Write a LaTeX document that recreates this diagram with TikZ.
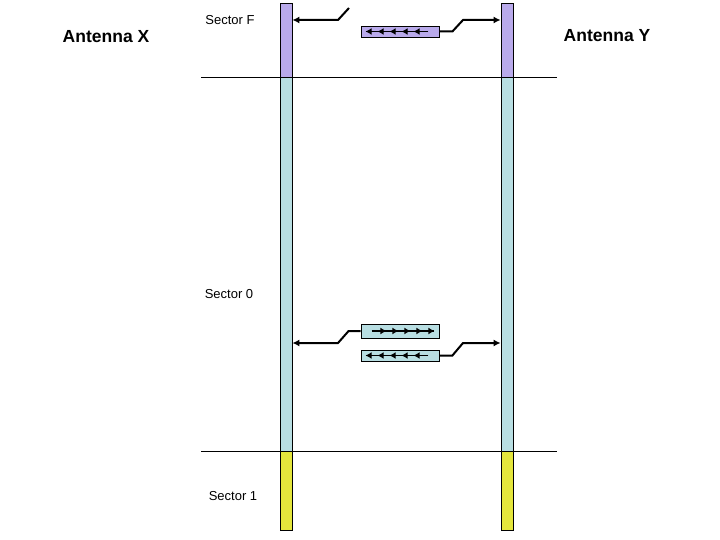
\documentclass[tikz,border=0pt]{standalone}
\usepackage{fontspec}
\setmainfont{Liberation Sans}
\usetikzlibrary{arrows.meta}
\definecolor{secF}{RGB}{185,170,235}
\definecolor{secZ}{RGB}{184,222,226}
\definecolor{secO}{RGB}{228,230,60}
\tikzset{
  seg/.style={draw=black, line width=0.8pt, minimum width=12pt, inner sep=0pt, anchor=north},
  msgbox/.style={draw=black, line width=0.8pt, minimum width=78pt, minimum height=11pt, inner sep=0pt},
  conn/.style={line width=2pt, -{Latex[length=7pt,width=7pt]}},
  tipL/.style={line width=1.4pt, -{Latex[length=6pt,width=7pt]}},
  flow/.style={line width=1.4pt},
  divider/.style={line width=0.8pt},
  lbl/.style={font=\fontsize{13}{15}\selectfont, inner sep=0pt},
  ant/.style={font=\fontsize{17.5}{20}\selectfont\bfseries, inner sep=0pt}
}
\begin{document}
\begin{tikzpicture}[x=1pt,y=-1pt]
\useasboundingbox (0,0) rectangle (720,540);
% bars
\node[seg, fill=secF, minimum height=74pt]  (xF) at (286,3) {};
\node[seg, fill=secZ, minimum height=374pt] (x0) at (286,77) {};
\node[seg, fill=secO, minimum height=79pt]  (x1) at (286,451) {};
\node[seg, fill=secF, minimum height=74pt]  (yF) at (507,3) {};
\node[seg, fill=secZ, minimum height=374pt] (y0) at (507,77) {};
\node[seg, fill=secO, minimum height=79pt]  (y1) at (507,451) {};
% dividers
\coordinate (d1a) at (201,77); \coordinate (d1b) at (557,77);
\coordinate (d2a) at (201,451); \coordinate (d2b) at (557,451);
\draw[divider] (d1a) -- (d1b);
\draw[divider] (d2a) -- (d2b);
% labels
\node[ant] (antX) at (106,37) {Antenna X};
\node[ant] (antY) at (607,36) {Antenna Y};
\node[lbl] (sF) at (230,20) {Sector F};
\node[lbl] (s0) at (229,294) {Sector 0};
\node[lbl] (s1) at (233,496) {Sector 1};
% message boxes
\node[msgbox, fill=secF] (tb) at (400,31.5) {};
\node[msgbox, fill=secZ, minimum height=14pt] (b1) at (400,331) {};
\node[msgbox, fill=secZ] (b2) at (400,355.5) {};
% inner arrows
\draw[flow] ([xshift=-11pt]tb.east) -- ([xshift=5pt]tb.west);
\foreach \d in {5,17,29,41,53}
  \draw[tipL] ([xshift=\d+10 pt]tb.west) -- ([xshift=\d pt]tb.west);
\draw[flow] ([xshift=-11pt]b2.east) -- ([xshift=5pt]b2.west);
\foreach \d in {5,17,29,41,53}
  \draw[tipL] ([xshift=\d+10 pt]b2.west) -- ([xshift=\d pt]b2.west);
\draw[flow] ([xshift=11pt]b1.west) -- ([xshift=-5pt]b1.east);
\foreach \d in {5,17,29,41,53}
  \draw[tipL] ([xshift=-\d-10 pt]b1.east) -- ([xshift=-\d pt]b1.east);
% connectors
\coordinate (r1) at (0,20);
\coordinate (r2) at (0,343);
\coordinate (swF) at (349,8);
\draw[conn] (swF) -- (338,20) -- (xF.east |- r1);
\draw[conn] (tb.east) -- ++(13,0) -- (463,20) -- (yF.west |- r1);
\draw[conn] (b1.west) -- ++(-12,0) -- (338,343) -- (x0.east |- r2);
\draw[conn] (b2.east) -- ++(13,0) -- (463,343) -- (y0.west |- r2);
\end{tikzpicture}
\end{document}
